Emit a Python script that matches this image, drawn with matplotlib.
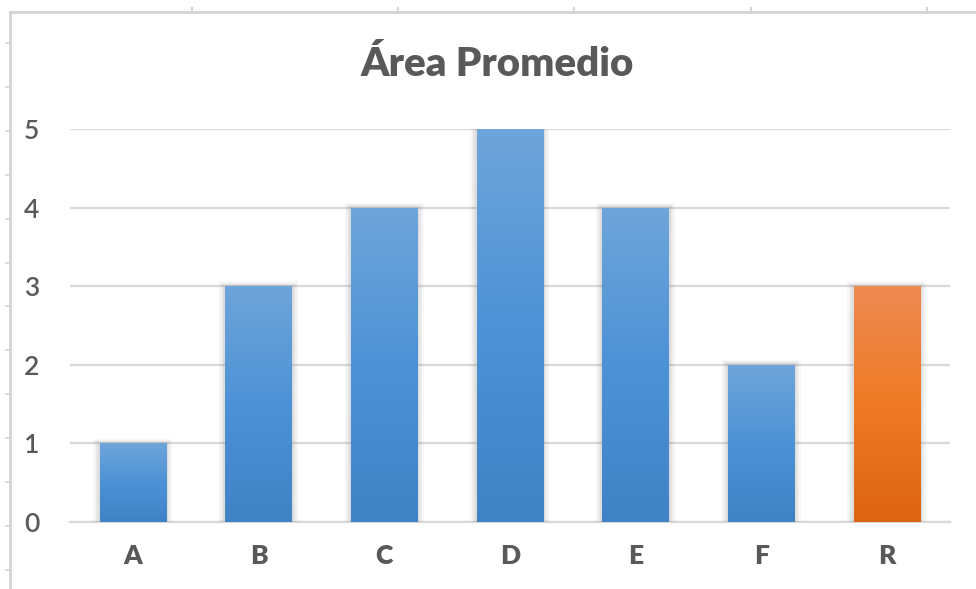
import numpy as np
import matplotlib.pyplot as plt
from matplotlib.patches import Rectangle
from matplotlib.colors import LinearSegmentedColormap
from matplotlib.lines import Line2D

categories = ["A", "B", "C", "D", "E", "F", "R"]
values = [1, 3, 4, 5, 4, 2, 3]
highlight = ["R"]
title = "Área Promedio"

plt.rcParams["font.family"] = ["Lato", "DejaVu Sans"]
text_color = "#595959"
grid_color = "#d9d9d9"

blue_map = LinearSegmentedColormap.from_list("blue", ["#3f83c5", "#4d92d6", "#6ea5da"])
orange_map = LinearSegmentedColormap.from_list("orange", ["#dd6412", "#ef7a24", "#ee8a53"])

fig = plt.figure(figsize=(9.76, 5.89), dpi=100)

# worksheet cell borders behind the chart
frame = fig.add_axes([0, 0, 1, 1])
frame.set_xlim(0, 976)
frame.set_ylim(589, 0)
frame.axis("off")
frame.add_line(Line2D([10, 10], [12, 589], color="#d4d4d4", lw=2))
frame.add_line(Line2D([10, 976], [12, 12], color="#d4d4d4", lw=2))
for y in np.arange(43, 589, 43.9):
    frame.add_line(Line2D([6, 10], [y, y], color="#d4d4d4", lw=1.2))
for x in [192, 398, 574, 751, 927]:
    frame.add_line(Line2D([x, x], [8, 12], color="#d4d4d4", lw=1.5))

ax = fig.add_axes([0.0717, 0.1138, 0.9013, 0.6672])
x = np.arange(len(categories))
width = 0.53

bars = ax.bar(x, values, width=width, color="none", zorder=3)
grad = np.linspace(0, 1, 256).reshape(-1, 1)
for bar, cat in zip(bars, categories):
    bx, bw, bh = bar.get_x(), bar.get_width(), bar.get_height()
    # soft shadow around each bar
    for i, a in enumerate([0.05, 0.06, 0.08, 0.10]):
        pad = 0.05 - i * 0.012
        ax.add_patch(Rectangle((bx - pad, 0), bw + 2 * pad, bh + pad * 1.2,
                               facecolor="#7f7f7f", edgecolor="none", alpha=a, zorder=2))
    cmap = orange_map if cat in highlight else blue_map
    im = ax.imshow(grad, cmap=cmap, aspect="auto", origin="lower",
                   extent=[bx, bx + bw, 0, bh], zorder=3)
    im.set_clip_path(bar)

ax.set_xlim(-0.5, len(categories) - 0.5)
ax.set_ylim(0, 5)
ax.set_yticks(range(0, 6))
ax.yaxis.grid(True, color=grid_color, lw=1.6, zorder=1)
ax.set_axisbelow(True)
for s in ["top", "right", "left"]:
    ax.spines[s].set_visible(False)
ax.spines["bottom"].set_color(grid_color)
ax.spines["bottom"].set_linewidth(1.6)
ax.spines["bottom"].set_zorder(1)

ax.set_xticks(x)
ax.set_xticklabels(categories, fontsize=19, fontweight="heavy", color=text_color)
ax.tick_params(axis="x", length=0, pad=16)
ax.tick_params(axis="y", length=0, pad=22, labelsize=19, labelcolor=text_color)
for lab in ax.get_yticklabels():
    lab.set_fontweight("semibold")

fig.text(0.509, 0.89, title, ha="center", va="center", fontsize=29,
         fontweight="heavy", color=text_color)

fig.savefig("out.png", dpi=100)
